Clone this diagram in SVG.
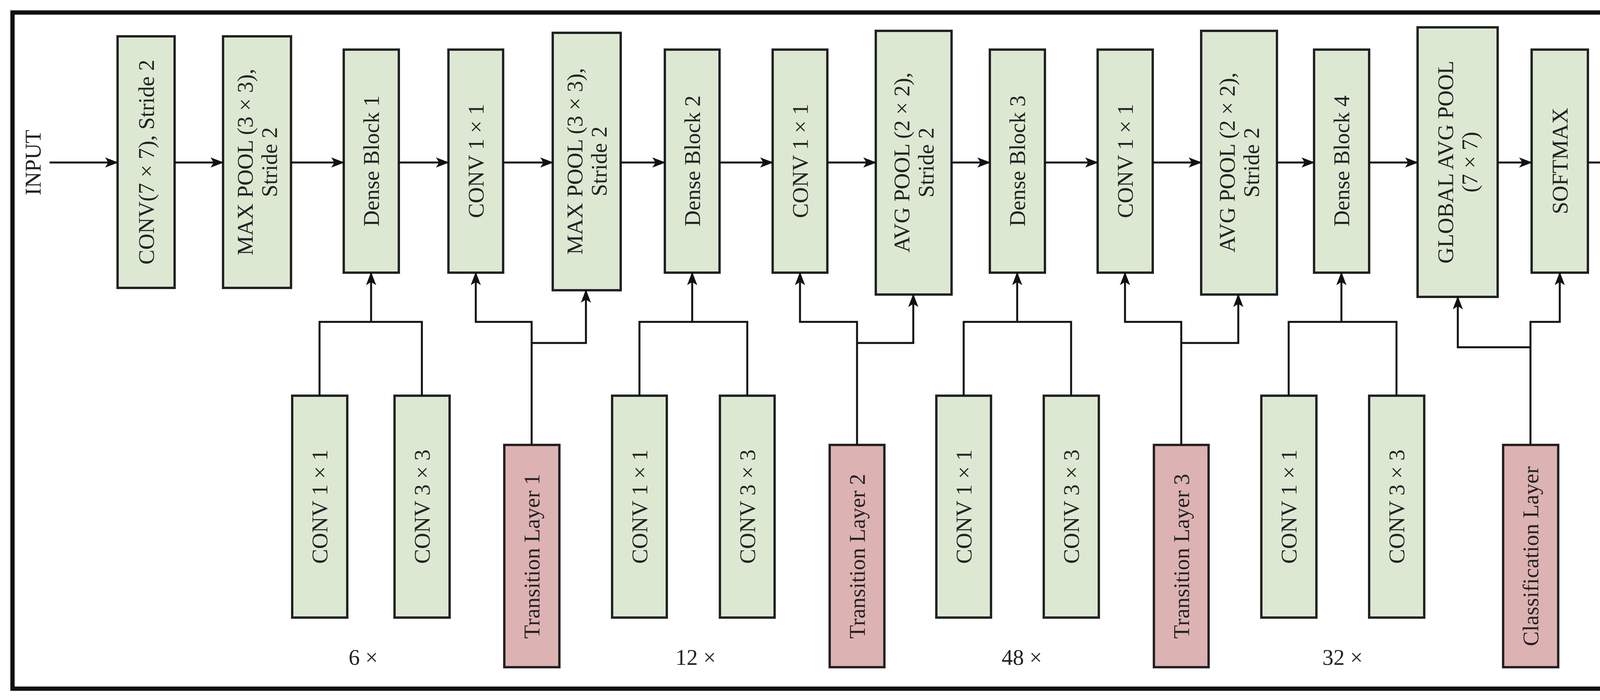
<svg xmlns="http://www.w3.org/2000/svg" width="4411" height="1792" viewBox="0 0 4411 1792">
<style>
.g{fill:#dde8d3;stroke:#222;stroke-width:6}
.p{fill:#ddb2b3;stroke:#222;stroke-width:6}
text{font-family:"Liberation Serif","Times New Roman",serif;font-size:57px;fill:#222;text-anchor:middle;dominant-baseline:central}
.c path,.c line{fill:none;stroke:#111;stroke-width:5}
</style>
<defs>
<marker id="a" markerUnits="userSpaceOnUse" markerWidth="34" markerHeight="26" refX="32" refY="13" orient="auto"><path d="M0,0 L34,13 L0,26 L8,13 Z" fill="#111"/></marker>
</defs>
<rect width="4411" height="1792" fill="#fff"/>
<rect x="32" y="32" width="4347" height="1731" fill="none" stroke="#111" stroke-width="11"/>
<text transform="translate(84,416) rotate(-90)">INPUT</text>
<text transform="translate(4300,416) rotate(-90)">OUTPUT</text>
<g id="n1"><rect class="g" x="301" y="93" width="146" height="644"/><text transform="translate(374,415) rotate(-90)">CONV(7 × 7), Stride 2</text></g>
<g id="n2"><rect class="g" x="571" y="93" width="174" height="644"/><text transform="translate(658,415) rotate(-90)"><tspan x="0" dy="-31">MAX POOL (3 × 3),</tspan><tspan x="0" dy="62">Stride 2</tspan></text></g>
<g id="n3"><rect class="g" x="880" y="127" width="141" height="571"/><text transform="translate(950,412) rotate(-90)">Dense Block 1</text></g>
<g id="n4"><rect class="g" x="1148" y="127" width="140" height="571"/><text transform="translate(1218,412) rotate(-90)">CONV 1 × 1</text></g>
<g id="n5"><rect class="g" x="1415" y="84" width="174" height="659"/><text transform="translate(1502,413) rotate(-90)"><tspan x="0" dy="-31">MAX POOL (3 × 3),</tspan><tspan x="0" dy="62">Stride 2</tspan></text></g>
<g id="n6"><rect class="g" x="1702" y="127" width="140" height="571"/><text transform="translate(1772,412) rotate(-90)">Dense Block 2</text></g>
<g id="n7"><rect class="g" x="1978" y="127" width="140" height="571"/><text transform="translate(2048,412) rotate(-90)">CONV 1 × 1</text></g>
<g id="n8"><rect class="g" x="2242" y="79" width="194" height="675"/><text transform="translate(2339,416) rotate(-90)"><tspan x="0" dy="-31">AVG POOL (2 × 2),</tspan><tspan x="0" dy="62">Stride 2</tspan></text></g>
<g id="n9"><rect class="g" x="2534" y="127" width="141" height="571"/><text transform="translate(2604,412) rotate(-90)">Dense Block 3</text></g>
<g id="n10"><rect class="g" x="2810" y="127" width="141" height="571"/><text transform="translate(2880,412) rotate(-90)">CONV 1 × 1</text></g>
<g id="n11"><rect class="g" x="3075" y="79" width="194" height="675"/><text transform="translate(3172,416) rotate(-90)"><tspan x="0" dy="-31">AVG POOL (2 × 2),</tspan><tspan x="0" dy="62">Stride 2</tspan></text></g>
<g id="n12"><rect class="g" x="3364" y="127" width="141" height="571"/><text transform="translate(3434,412) rotate(-90)">Dense Block 4</text></g>
<g id="n13"><rect class="g" x="3629" y="70" width="205" height="690"/><text transform="translate(3731,415) rotate(-90)"><tspan x="0" dy="-31">GLOBAL AVG POOL</tspan><tspan x="0" dy="62">(7 × 7)</tspan></text></g>
<g id="n14"><rect class="g" x="3921" y="127" width="144" height="571"/><text transform="translate(3993,412) rotate(-90)">SOFTMAX</text></g>
<g id="b1"><rect class="g" x="748" y="1013" width="141" height="568"/><text transform="translate(818,1297) rotate(-90)">CONV 1 × 1</text></g>
<g id="b2"><rect class="g" x="1010" y="1013" width="141" height="568"/><text transform="translate(1080,1297) rotate(-90)">CONV 3 × 3</text></g>
<g id="t1"><rect class="p" x="1291" y="1139" width="141" height="569"/><text transform="translate(1361,1424) rotate(-90)">Transition Layer 1</text></g>
<g id="b3"><rect class="g" x="1567" y="1013" width="140" height="568"/><text transform="translate(1637,1297) rotate(-90)">CONV 1 × 1</text></g>
<g id="b4"><rect class="g" x="1843" y="1013" width="140" height="568"/><text transform="translate(1913,1297) rotate(-90)">CONV 3 × 3</text></g>
<g id="t2"><rect class="p" x="2124" y="1139" width="140" height="569"/><text transform="translate(2194,1424) rotate(-90)">Transition Layer 2</text></g>
<g id="b5"><rect class="g" x="2397" y="1013" width="140" height="568"/><text transform="translate(2467,1297) rotate(-90)">CONV 1 × 1</text></g>
<g id="b6"><rect class="g" x="2672" y="1013" width="141" height="568"/><text transform="translate(2742,1297) rotate(-90)">CONV 3 × 3</text></g>
<g id="t3"><rect class="p" x="2954" y="1139" width="140" height="569"/><text transform="translate(3024,1424) rotate(-90)">Transition Layer 3</text></g>
<g id="b7"><rect class="g" x="3229" y="1013" width="141" height="568"/><text transform="translate(3299,1297) rotate(-90)">CONV 1 × 1</text></g>
<g id="b8"><rect class="g" x="3505" y="1013" width="141" height="568"/><text transform="translate(3575,1297) rotate(-90)">CONV 3 × 3</text></g>
<g id="t4"><rect class="p" x="3848" y="1139" width="141" height="569"/><text transform="translate(3918,1424) rotate(-90)">Classification Layer</text></g>
<text x="930" y="1682">6 ×</text>
<text x="1781" y="1682">12 ×</text>
<text x="2616" y="1682">48 ×</text>
<text x="3437" y="1682">32 ×</text>
<g class="c">
<line x1="127" y1="416" x2="301" y2="416" marker-end="url(#a)"/>
<line x1="447" y1="416" x2="571" y2="416" marker-end="url(#a)"/>
<line x1="745" y1="416" x2="880" y2="416" marker-end="url(#a)"/>
<line x1="1021" y1="416" x2="1148" y2="416" marker-end="url(#a)"/>
<line x1="1288" y1="416" x2="1415" y2="416" marker-end="url(#a)"/>
<line x1="1589" y1="416" x2="1702" y2="416" marker-end="url(#a)"/>
<line x1="1842" y1="416" x2="1978" y2="416" marker-end="url(#a)"/>
<line x1="2118" y1="416" x2="2242" y2="416" marker-end="url(#a)"/>
<line x1="2436" y1="416" x2="2534" y2="416" marker-end="url(#a)"/>
<line x1="2675" y1="416" x2="2810" y2="416" marker-end="url(#a)"/>
<line x1="2951" y1="416" x2="3075" y2="416" marker-end="url(#a)"/>
<line x1="3269" y1="416" x2="3364" y2="416" marker-end="url(#a)"/>
<line x1="3505" y1="416" x2="3629" y2="416" marker-end="url(#a)"/>
<line x1="3834" y1="416" x2="3921" y2="416" marker-end="url(#a)"/>
<line x1="4065" y1="416" x2="4244" y2="416" marker-end="url(#a)"/>
<path d="M818,1013 V824 H1080 V1013"/><line x1="950" y1="824" x2="950" y2="698" marker-end="url(#a)"/>
<path d="M1637,1013 V824 H1913 V1013"/><line x1="1772" y1="824" x2="1772" y2="698" marker-end="url(#a)"/>
<path d="M2467,1013 V824 H2742 V1013"/><line x1="2604" y1="824" x2="2604" y2="698" marker-end="url(#a)"/>
<path d="M3299,1013 V824 H3575 V1013"/><line x1="3434" y1="824" x2="3434" y2="698" marker-end="url(#a)"/>
<path d="M1361,1139 V824 H1218 V698" marker-end="url(#a)"/><path d="M1361,878 H1500 V743" marker-end="url(#a)"/>
<path d="M2194,1139 V824 H2048 V698" marker-end="url(#a)"/><path d="M2194,878 H2338 V754" marker-end="url(#a)"/>
<path d="M3024,1139 V824 H2880 V698" marker-end="url(#a)"/><path d="M3024,878 H3170 V754" marker-end="url(#a)"/>
<path d="M3918,1139 V824 H3993 V698" marker-end="url(#a)"/><path d="M3918,889 H3732 V760" marker-end="url(#a)"/>
</g>
</svg>
